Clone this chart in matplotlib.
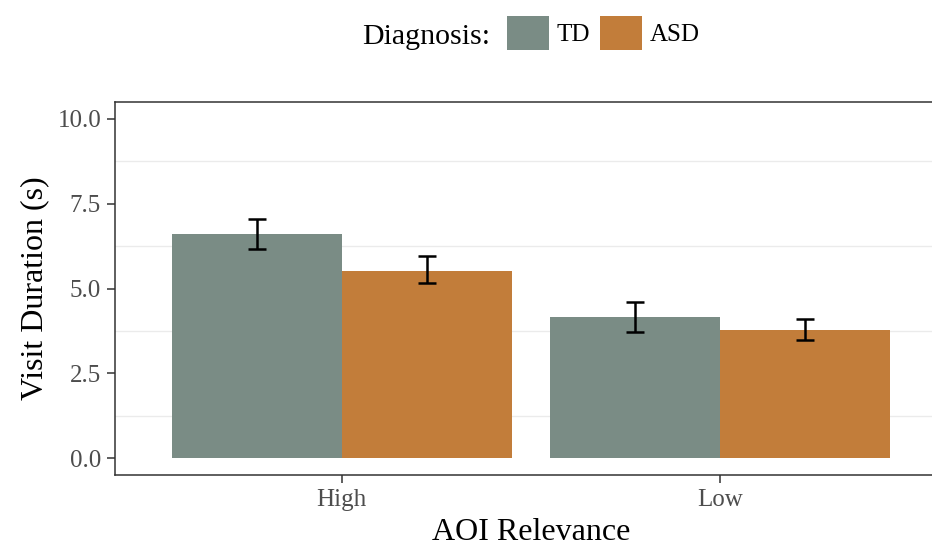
import matplotlib
matplotlib.use("Agg")
import matplotlib.pyplot as plt
import numpy as np
from matplotlib.patches import Patch

plt.rcParams['font.family'] = ['Liberation Serif', 'DejaVu Serif']

# data
categories = ['High', 'Low']
groups = ['TD', 'ASD']
means = {'TD': [6.60, 4.15], 'ASD': [5.53, 3.79]}
lower = {'TD': [6.16, 3.72], 'ASD': [5.17, 3.48]}
upper = {'TD': [7.04, 4.60], 'ASD': [5.96, 4.10]}
colors = {'TD': '#7a8c85', 'ASD': '#c27d3a'}
y_ticks = [0.0, 2.5, 5.0, 7.5, 10.0]

fig = plt.figure(figsize=(9.32, 5.45), dpi=100)
ax = fig.add_axes([115 / 932, 70 / 545, 831.6 / 932, 373 / 545])

x = np.arange(1, len(categories) + 1)
width = 0.45
offsets = {'TD': -width / 2, 'ASD': width / 2}

for g in groups:
    pos = x + offsets[g]
    m = np.array(means[g])
    err = [m - np.array(lower[g]), np.array(upper[g]) - m]
    ax.bar(pos, m, width, color=colors[g], zorder=2)
    ax.errorbar(pos, m, yerr=err, fmt='none', ecolor='black',
                elinewidth=1.8, capsize=6.7, capthick=1.8, zorder=3)

ax.set_xlim(0.4, 2.6)
ax.set_ylim(-0.5, 10.5)
ax.set_xticks(x)
ax.set_xticklabels(categories)
ax.set_yticks(y_ticks)
ax.set_yticklabels([f'{v:.1f}' for v in y_ticks])

# only minor horizontal grid lines, like the original
ax.set_yticks([1.25, 3.75, 6.25, 8.75], minor=True)
ax.grid(False)
ax.yaxis.grid(True, which='minor', color='#ebebeb', linewidth=1.0, zorder=0)
ax.tick_params(axis='y', which='minor', length=0)
ax.set_axisbelow(True)

for s in ax.spines.values():
    s.set_color('#333333')
    s.set_linewidth(1.1)
ax.tick_params(which='major', length=6, width=1.1, color='#333333',
               labelcolor='#4d4d4d', labelsize=18, pad=4)

ax.set_xlabel('AOI Relevance', fontsize=23, labelpad=5)
ax.set_ylabel('Visit Duration (s)', fontsize=23, labelpad=6)

# legend on top
fig.text(362 / 932, 1 - 37 / 545, 'Diagnosis:', fontsize=21.5,
         ha='left', va='center')
handles = [Patch(facecolor=colors[g], edgecolor='none', label=g) for g in groups]
fig.legend(handles=handles, loc='center left',
           bbox_to_anchor=(507 / 932, 1 - 33 / 545), ncol=2, frameon=False,
           fontsize=18, handlelength=1.68, handleheight=1.68,
           handletextpad=0.32, columnspacing=0.36, borderpad=0, borderaxespad=0)

fig.savefig('out.png', dpi=100)
